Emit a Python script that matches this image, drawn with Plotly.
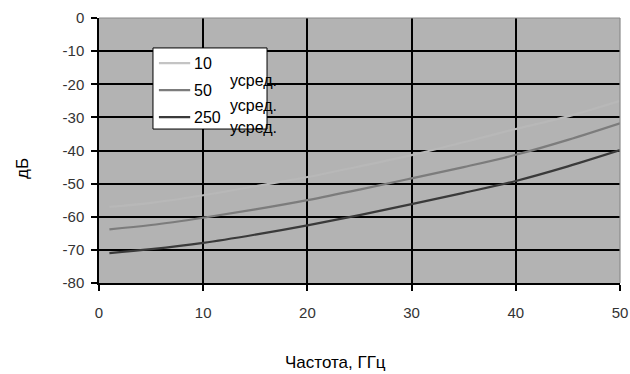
import plotly.graph_objects as go

# Frequency grid (GHz) and averaged attenuation curves (dB)
freq_ghz = [1, 5, 10, 15, 20, 25, 30, 35, 40, 45, 50]
avg_10 = [-57.0, -55.8, -53.5, -50.8, -48.0, -44.8, -41.4, -37.5, -33.5, -29.7, -25.0]
avg_50 = [-63.8, -62.5, -60.3, -57.8, -55.0, -51.8, -48.4, -45.0, -41.3, -36.8, -31.8]
avg_250 = [-71.0, -69.8, -67.9, -65.4, -62.6, -59.5, -56.2, -52.8, -49.2, -44.8, -39.9]

series_names = ["10", "50", "250"]
series_suffix = "усред."
series_colors = ["#b8b8b8", "#7c7c7c", "#3a3a3a"]
legend_colors = ["#c4c4c4", "#7c7c7c", "#3a3a3a"]

x_ticks = [0, 10, 20, 30, 40, 50]
y_ticks = [0, -10, -20, -30, -40, -50, -60, -70, -80]

FONT = "Liberation Sans Narrow, Arial Narrow, Liberation Sans, Arial, sans-serif"
TICK_FONT = "Liberation Sans, Arial, sans-serif"

fig = go.Figure()
for name, ys, col in zip(series_names, [avg_10, avg_50, avg_250], series_colors):
    fig.add_trace(go.Scatter(
        x=freq_ghz, y=ys, mode="lines", name=f"{name} {series_suffix}",
        line=dict(color=col, width=2.2), line_shape="spline",
        showlegend=False, hoverinfo="skip",
    ))

# Legend box drawn in paper coordinates
shapes = [
    dict(type="rect", xref="paper", yref="paper", x0=0.1036, x1=0.3225, y0=0.581, y1=0.887,
         fillcolor="white", line=dict(color="black", width=1), layer="above"),
    # top and right frame of the plot area
    dict(type="line", xref="paper", yref="paper", x0=0, x1=1, y0=1, y1=1,
         line=dict(color="#8a8a8a", width=1.2)),
    dict(type="line", xref="paper", yref="paper", x0=1, x1=1, y0=0, y1=1,
         line=dict(color="#8a8a8a", width=1.2)),
]
annotations = []
row_y = [0.830, 0.728, 0.626]
suffix_y = [0.766, 0.668, 0.585]
for name, col, ry, sy in zip(series_names, legend_colors, row_y, suffix_y):
    shapes.append(dict(type="line", xref="paper", yref="paper", x0=0.115, x1=0.175, y0=ry, y1=ry,
                       line=dict(color=col, width=2.2), layer="above"))
    annotations.append(dict(xref="paper", yref="paper", x=0.178, y=ry, text=name, showarrow=False,
                            xanchor="left", yanchor="middle",
                            font=dict(family=FONT, size=16, color="black")))
    annotations.append(dict(xref="paper", yref="paper", x=0.247, y=sy, text=series_suffix,
                            showarrow=False, xanchor="left", yanchor="middle",
                            font=dict(family=FONT, size=16, color="black")))

# Axis titles
annotations.append(dict(xref="paper", yref="paper", x=(335 - 99) / 521, y=(283 - 362) / 265,
                        text="Частота, ГГц", showarrow=False, xanchor="center", yanchor="middle",
                        font=dict(family=FONT, size=17, color="black")))
annotations.append(dict(xref="paper", yref="paper", x=(22 - 99) / 521, y=(283 - 169) / 265,
                        text="дБ", showarrow=False, xanchor="center", yanchor="middle", textangle=-90,
                        font=dict(family=FONT, size=17, color="black")))

axis_common = dict(
    showgrid=True, gridcolor="#000000", gridwidth=1.5,
    showline=True, linecolor="black", linewidth=1.5,
    ticks="outside", ticklen=6, tickcolor="black", tickwidth=1.5,
    tickfont=dict(family=TICK_FONT, size=15, color="#333333"),
    zeroline=False, fixedrange=True, automargin=False,
)

fig.update_layout(
    width=630, height=374,
    margin=dict(l=99, r=10, t=18, b=91),
    paper_bgcolor="white", plot_bgcolor="#b3b3b3",
    shapes=shapes, annotations=annotations,
    xaxis=dict(range=[0, 50], tickvals=x_ticks, ticktext=[str(v) for v in x_ticks],
               ticklabelstandoff=9, **axis_common),
    yaxis=dict(range=[-80, 0], tickvals=y_ticks, ticktext=[str(v) for v in y_ticks],
               ticklabelstandoff=4, **axis_common),
)

fig.write_html("out.html")
